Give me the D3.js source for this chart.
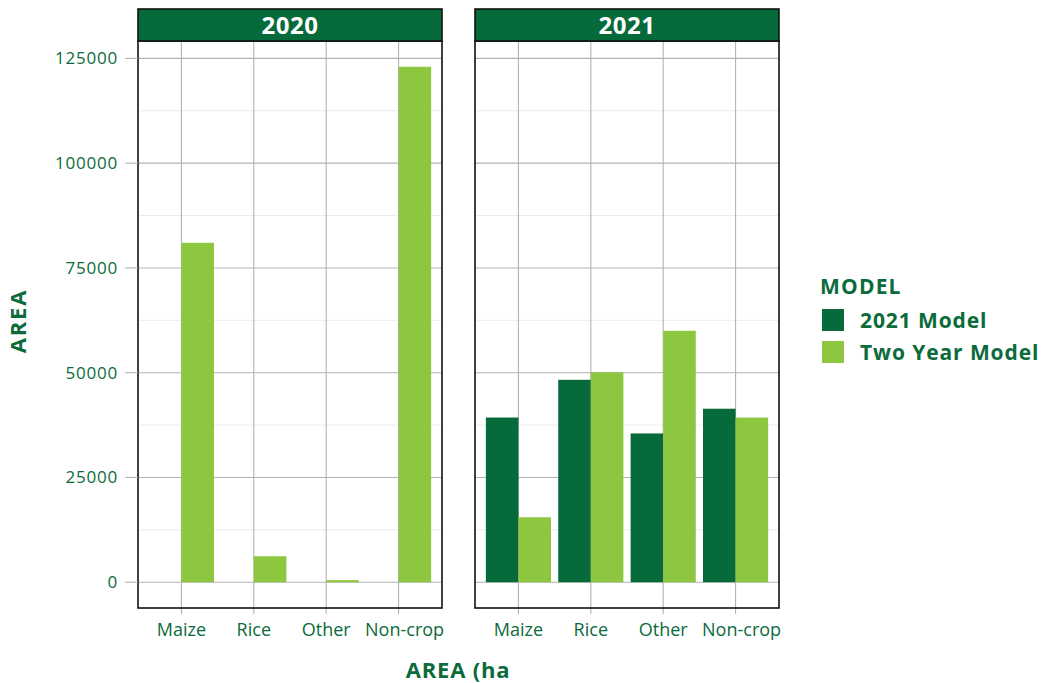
<!DOCTYPE html>
<html>
<head>
<meta charset="utf-8">
<script src="https://cdn.jsdelivr.net/npm/d3@7"></script>
<style>
  body { margin: 0; background: #fff; }
  svg { font-family: "Open Sans", "Noto Sans", sans-serif; }
</style>
</head>
<body>
<svg id="chart" width="1047" height="683"></svg>
<script>
// data
var years = ["2020", "2021"];
var categories = ["Maize", "Rice", "Other", "Non-crop"];
var models = ["2021 Model", "Two Year Model"];
// values per year, per category: [2021 Model, Two Year Model]; null = no bar
var model2021 = {
  "2020": [null, null, null, null],
  "2021": [39300, 48300, 35500, 41400]
};
var twoYear = {
  "2020": [81000, 6200, 500, 123000],
  "2021": [15500, 50100, 60000, 39300]
};
var yTicks = [0, 25000, 50000, 75000, 100000, 125000];
var yMinor = [12500, 37500, 62500, 87500, 112500];

var GREEN = "#066a3a", LIGHT = "#8dc63f", TEXT = "#0b6b3b";
var color = d3.scaleOrdinal().domain(models).range([GREEN, LIGHT]);

var svg = d3.select("#chart");

var panelTop = 41, panelBottom = 608, stripTop = 9;
var panels = [{ year: "2020", x0: 138, x1: 442 }, { year: "2021", x0: 475, x1: 779 }];

// y scale with ggplot style 5% expansion
var maxV = 123000;
var y = d3.scaleLinear()
  .domain([-maxV * 0.05, maxV * 1.05])
  .range([panelBottom, panelTop]);

panels.forEach(function (p, pi) {
  var x = d3.scalePoint().domain(categories).range([p.x0, p.x1]).padding(0.6);
  var step = x.step();
  var xb = d3.scaleBand().domain(models).range([-step * 0.45, step * 0.45]);

  var g = svg.append("g").attr("class", "panel");

  // minor grid
  g.selectAll(".minor").data(yMinor).enter().append("line")
    .attr("x1", p.x0).attr("x2", p.x1)
    .attr("y1", function (d) { return y(d); }).attr("y2", function (d) { return y(d); })
    .attr("stroke", "#ebebeb").attr("stroke-width", 1);
  // major grid
  g.selectAll(".major").data(yTicks).enter().append("line")
    .attr("x1", p.x0).attr("x2", p.x1)
    .attr("y1", function (d) { return y(d); }).attr("y2", function (d) { return y(d); })
    .attr("stroke", "#b3b3b3").attr("stroke-width", 1.1);
  g.selectAll(".vgrid").data(categories).enter().append("line")
    .attr("x1", function (d) { return x(d); }).attr("x2", function (d) { return x(d); })
    .attr("y1", panelTop).attr("y2", panelBottom + 6)
    .attr("stroke", "#b3b3b3").attr("stroke-width", 1.1);

  // bars
  var rows = [];
  categories.forEach(function (c, i) {
    var v1 = model2021[p.year][i], v2 = twoYear[p.year][i];
    if (v1 != null) rows.push({ cat: c, model: models[0], value: v1 });
    if (v2 != null) rows.push({ cat: c, model: models[1], value: v2 });
  });
  g.selectAll(".bar").data(rows).enter().append("rect")
    .attr("x", function (d) { return x(d.cat) + xb(d.model); })
    .attr("width", xb.bandwidth())
    .attr("y", function (d) { return y(d.value); })
    .attr("height", function (d) { return y(0) - y(d.value); })
    .attr("fill", function (d) { return color(d.model); });

  // panel border
  g.append("rect")
    .attr("x", p.x0).attr("y", panelTop)
    .attr("width", p.x1 - p.x0).attr("height", panelBottom - panelTop)
    .attr("fill", "none").attr("stroke", "#111").attr("stroke-width", 1.6);

  // strip
  g.append("rect")
    .attr("x", p.x0).attr("y", stripTop)
    .attr("width", p.x1 - p.x0).attr("height", panelTop - stripTop)
    .attr("fill", GREEN).attr("stroke", "#111").attr("stroke-width", 1.6);
  g.append("text")
    .attr("x", (p.x0 + p.x1) / 2).attr("y", (stripTop + panelTop) / 2 + 8.5)
    .attr("text-anchor", "middle").attr("fill", "#fff")
    .attr("font-weight", "bold").attr("font-size", 24)
    .attr("letter-spacing", 0.5)
    .text(p.year);

  // x axis labels
  g.selectAll(".xlab").data(categories).enter().append("text")
    .attr("x", function (d) { return x(d) + (d === "Non-crop" ? 6 : 0); }).attr("y", 636)
    .attr("text-anchor", "middle").attr("fill", TEXT).attr("font-size", 18)
    .text(function (d) { return d; });

  // y axis on first panel only
  if (pi === 0) {
    g.selectAll(".ytick").data(yTicks).enter().append("line")
      .attr("x1", p.x0 - 13).attr("x2", p.x0)
      .attr("y1", function (d) { return y(d); }).attr("y2", function (d) { return y(d); })
      .attr("stroke", "#b3b3b3").attr("stroke-width", 1.1);
    g.selectAll(".ylab").data(yTicks).enter().append("text")
      .attr("x", p.x0 - 20).attr("y", function (d) { return y(d) + 6; })
      .attr("text-anchor", "end").attr("fill", TEXT).attr("font-size", 17)
      .attr("letter-spacing", 0.8)
      .text(function (d) { return d; });
  }
});

// axis titles
svg.append("text")
  .attr("transform", "translate(26,321) rotate(-90)")
  .attr("text-anchor", "middle").attr("fill", TEXT)
  .attr("font-weight", "bold").attr("font-size", 22)
  .attr("letter-spacing", 1.8)
  .text("AREA");
svg.append("text")
  .attr("x", 458).attr("y", 678)
  .attr("text-anchor", "middle").attr("fill", TEXT)
  .attr("font-weight", "bold").attr("font-size", 22)
  .attr("letter-spacing", 0.8)
  .text("AREA (ha");

// legend
var lg = svg.append("g").attr("transform", "translate(820,0)");
lg.append("text").attr("x", 0).attr("y", 294)
  .attr("fill", TEXT).attr("font-weight", "bold").attr("font-size", 21)
  .attr("letter-spacing", 1.2)
  .text("MODEL");
lg.selectAll(".key").data(models).enter().append("rect")
  .attr("x", 2).attr("y", function (d, i) { return 309 + i * 32; })
  .attr("width", 22).attr("height", 22)
  .attr("fill", function (d) { return color(d); });
lg.selectAll(".klab").data(models).enter().append("text")
  .attr("x", 40).attr("y", function (d, i) { return 328 + i * 32; })
  .attr("fill", TEXT).attr("font-weight", "bold").attr("font-size", 21)
  .attr("letter-spacing", 0.9)
  .text(function (d) { return d; });
</script>
</body>
</html>
